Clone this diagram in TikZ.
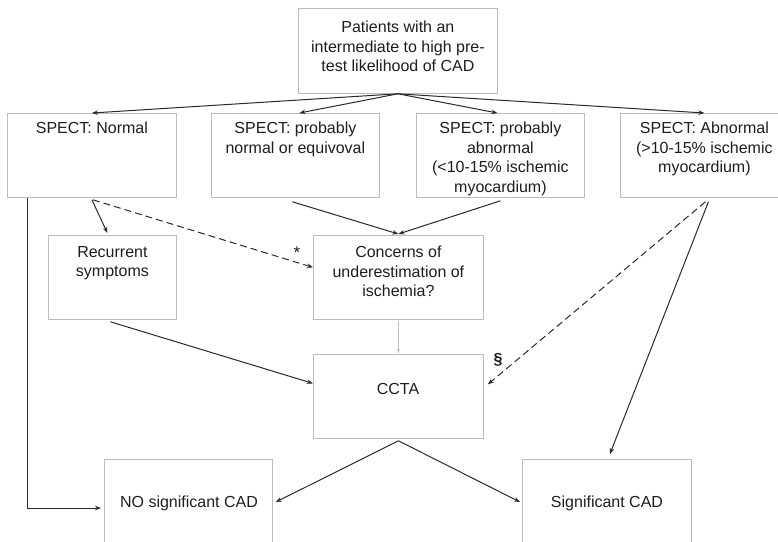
\documentclass[tikz,border=0pt]{standalone}
\usepackage{fontspec}
\setmainfont{Liberation Sans}
\usetikzlibrary{arrows.meta,calc}
\definecolor{boxgray}{HTML}{BDBDBD}
\definecolor{txtc}{HTML}{1E1E1E}
\definecolor{arrc}{HTML}{2A2A2A}
\begin{document}
\begin{tikzpicture}[x={(1pt,0)},y={(0,-1pt)},
  box/.style={draw=boxgray,line width=0.8pt,anchor=north west,inner sep=0pt,minimum width=#1},
  txt/.style={anchor=north,inner sep=0pt,align=center,text=txtc,font=\fontsize{16}{19.5}\selectfont},
  arr/.style={draw=arrc,line width=1pt,-{Stealth[length=6pt,width=4.5pt]}},
  darr/.style={arr,dash pattern=on 7pt off 4pt}]
\useasboundingbox (0,0) rectangle (778,541);
% boxes
\node[box=199pt,minimum height=85pt] (top) at (298,8) {};
\node[box=169pt,minimum height=84pt] (sn) at (7,113) {};
\node[box=168pt,minimum height=84pt] (pn) at (211,113) {};
\node[box=168pt,minimum height=84pt] (pa) at (416,113) {};
\node[box=168pt,minimum height=84pt] (ab) at (620,113) {};
\node[box=128pt,minimum height=84pt] (rec) at (48,235) {};
\node[box=170pt,minimum height=84pt] (con) at (313,235) {};
\node[box=170pt,minimum height=84pt] (ccta) at (313,354) {};
\node[box=168pt,minimum height=100pt] (no) at (104,459) {};
\node[box=169pt,minimum height=100pt] (sig) at (522,459) {};
% texts
\node[txt] (ttop) at ($(top.north)+(0,-13pt)$) {Patients with an\\intermediate to high pre-\\test likelihood of CAD};
\node[txt] (tsn) at ($(sn.north)+(0,-9pt)$) {SPECT: Normal};
\node[txt] (tpn) at ($(pn.north)+(0,-9pt)$) {SPECT: probably\\normal or equivoval};
\node[txt] (tpa) at ($(pa.north)+(0,-9pt)$) {SPECT: probably\\abnormal\\(<10-15\% ischemic\\myocardium)};
\node[txt] (tab) at ($(ab.north)+(0,-9pt)$) {SPECT: Abnormal\\(>10-15\% ischemic\\myocardium)};
\node[txt] (trec) at ($(rec.north)+(0,-11pt)$) {Recurrent\\symptoms};
\node[txt] (tcon) at ($(con.north)+(0,-11pt)$) {Concerns of\\underestimation of\\ischemia?};
\node[txt,anchor=center] (tccta) at (398,389) {CCTA};
\node[txt,anchor=center] (tno) at (189,503) {NO significant CAD};
\node[txt,anchor=center] (tsig) at (607,503) {Significant CAD};
\node[txt,anchor=center,font=\fontsize{17}{20}\selectfont] (star) at (297,253) {*};
\node[txt,anchor=center,font=\bfseries\fontsize{16}{19.5}\selectfont] (sect) at (498,360) {§};
% connectors
\draw[arr] (top.south) -- (sn.north);
\draw[arr] (top.south) -- ([xshift=4pt]pn.north);
\draw[arr] (top.south) -- ([xshift=-3pt]pa.north);
\draw[arr] (top.south) -- (ab.north);
\draw[arr] ([yshift=-2pt]sn.south) -- ([xshift=-5pt,yshift=2pt]rec.north);
\draw[darr] ([xshift=1pt,yshift=-2pt]sn.south) -- ([yshift=10pt]con.west);
\draw[arr] ([xshift=-3pt,yshift=-4pt]pn.south) -- ([yshift=1pt]con.north);
\draw[arr] ([yshift=-3pt]pa.south) -- ([yshift=1pt]con.north);
\draw[draw=boxgray,line width=0.6pt,-{Stealth[length=4pt,width=3pt]}] ([yshift=-1pt]con.south) -- ([yshift=1pt]ccta.north);
\draw[arr] ([xshift=-2pt,yshift=-2pt]rec.south) -- ([yshift=13pt]ccta.west);
\draw[darr] ([xshift=1pt,yshift=-4pt]ab.south) -- ([xshift=4pt,yshift=12pt]ccta.east);
\draw[arr] ([xshift=4pt,yshift=-4pt]ab.south) -- ([xshift=3pt,yshift=5pt]sig.north);
\draw[arr] ([yshift=-2pt]ccta.south) -- ($(no.north east)+(3pt,-43pt)$);
\draw[arr] ([yshift=-2pt]ccta.south) -- ($(sig.north west)+(-2pt,-43pt)$);
\draw[arr] ([xshift=20pt]sn.south west) |- ($(no.north west)+(-3pt,-49pt)$);
\end{tikzpicture}
\end{document}
